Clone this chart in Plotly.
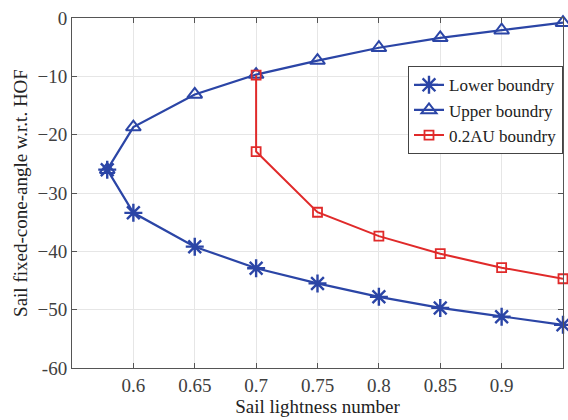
import plotly.graph_objects as go

lower_x = [0.5787, 0.6, 0.65, 0.7, 0.75, 0.8, 0.85, 0.9, 0.95]
lower_y = [-26.0, -33.4, -39.2, -42.9, -45.5, -47.8, -49.7, -51.2, -52.6]

upper_x = [0.5787, 0.6, 0.65, 0.7, 0.75, 0.8, 0.85, 0.9, 0.95]
upper_y = [-26.0, -18.7, -13.1, -9.7, -7.3, -5.1, -3.4, -2.1, -0.8]

au_x = [0.7, 0.7, 0.75, 0.8, 0.85, 0.9, 0.95]
au_y = [-9.8, -22.9, -33.3, -37.4, -40.4, -42.8, -44.7]

x_ticks = [0.6, 0.65, 0.7, 0.75, 0.8, 0.85, 0.9]
x_ticktext = ["0.6", "0.65", "0.7", "0.75", "0.8", "0.85", "0.9"]
y_ticks = [0, -10, -20, -30, -40, -50, -60]
y_ticktext = ["0", "\u221210", "\u221220", "\u221230", "\u221240", "\u221250", "-60"]

blue = "#2B45A6"
red = "#E02A2A"
font = "Liberation Serif"

fig = go.Figure()
fig.add_trace(go.Scatter(x=lower_x, y=lower_y, mode="lines+markers", name="Lower boundry",
                         line=dict(color=blue, width=2.2),
                         marker=dict(symbol="asterisk-open", size=15, line=dict(color=blue, width=2.4)),
                         cliponaxis=False))
fig.add_trace(go.Scatter(x=upper_x, y=upper_y, mode="lines+markers", name="Upper boundry",
                         line=dict(color=blue, width=2.2),
                         marker=dict(symbol="triangle-up-open", size=13, line=dict(color=blue, width=2)),
                         cliponaxis=False))
fig.add_trace(go.Scatter(x=au_x, y=au_y, mode="lines+markers", name="0.2AU boundry",
                         line=dict(color=red, width=2),
                         marker=dict(symbol="square-open", size=9, line=dict(color=red, width=1.8)),
                         cliponaxis=False))

axis_common = dict(showline=True, linecolor="#555555", linewidth=1, mirror="ticks",
                   ticks="inside", ticklen=5, tickcolor="#555555",
                   showgrid=True, gridcolor="#E6E6E6", gridwidth=1, zeroline=False,
                   tickfont=dict(family=font, size=19, color="#404040"))

fig.update_xaxes(range=[0.55, 0.95], tickvals=x_ticks, ticktext=x_ticktext,
                 title=dict(text="Sail lightness number", font=dict(family=font, size=19, color="#222222"), standoff=2),
                 **axis_common)
fig.update_yaxes(range=[-60, 0], tickvals=y_ticks, ticktext=y_ticktext,
                 title=dict(text="Sail fixed-cone-angle w.r.t. HOF", font=dict(family=font, size=19, color="#222222"), standoff=4),
                 **axis_common)

fig.update_layout(
    width=568, height=420,
    margin=dict(l=72, r=5, t=18, b=52),
    paper_bgcolor="white", plot_bgcolor="white",
    showlegend=True,
    legend=dict(x=1, y=0.862, xanchor="right", yanchor="top",
                bgcolor="white", bordercolor="#444444", borderwidth=1,
                font=dict(family=font, size=17, color="#222222"),
                tracegroupgap=0, itemwidth=30),
)

fig.write_html("out.html")
